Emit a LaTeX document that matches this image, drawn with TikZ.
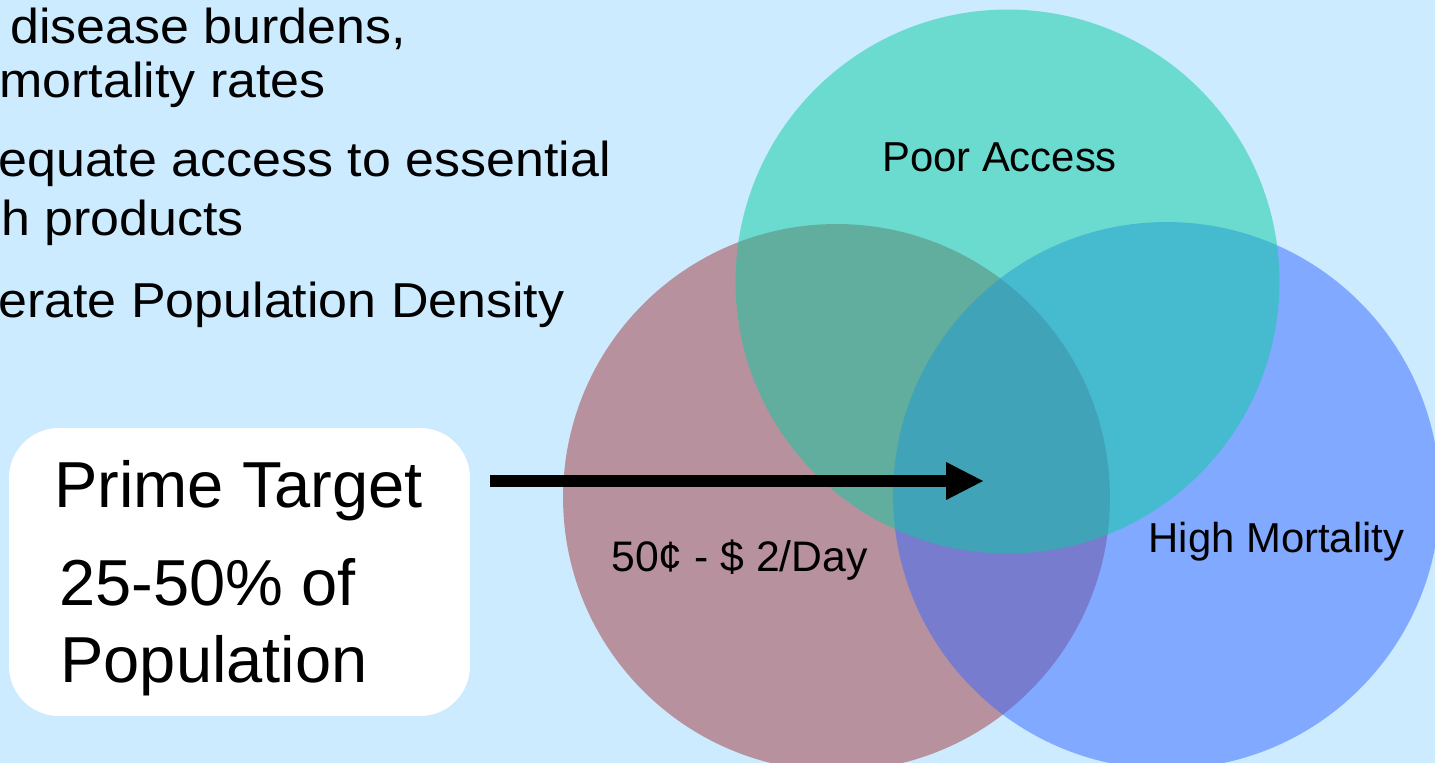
\documentclass[tikz,border=0pt]{standalone}
\usepackage{fontspec}
\setmainfont{Liberation Sans}
\usetikzlibrary{arrows.meta}
\definecolor{skyback}{HTML}{CCEBFF}
\definecolor{incomered}{HTML}{A4393D}
\definecolor{accessgreen}{HTML}{0CCBA1}
\definecolor{mortblue}{HTML}{3869FF}

\begin{document}
\begin{tikzpicture}[x=0.02cm, y=-0.02cm, inner sep=0pt,
  venn/.style={circle, minimum size=10.94cm, fill opacity=0.5},
  bullet/.style={anchor=base west, xscale=1.06, font=\fontsize{27.9}{33}\selectfont},
  tag/.style={anchor=base, font=\fontsize{23.8}{28}\selectfont},
  primebox/.style={fill=white, rounded corners=1cm, minimum width=9.22cm, minimum height=5.76cm},
  primetext/.style={anchor=base west, font=\fontsize{37}{44}\selectfont},
  pointer/.style={line width=7pt, -{Triangle[length=0.76cm, width=0.7cm]}}]
  \useasboundingbox (0,0) rectangle (1435,763);
  \clip (0,0) rectangle (1435,763);
  \fill[skyback] (0,0) rectangle (1435,763);

  \path node (l1) at (10,44)  [bullet] {disease burdens,}
        node (l2) at (-1,98)  [bullet] {mortality rates}
        node (l3) at (-2,177) [bullet] {equate access to essential}
        node (l4) at (1,236)  [bullet] {h products}
        node (l5) at (-2,317) [bullet] {erate Population Density};

  \path node (income) at (836.5,497.5)  [venn, fill=incomered] {}
        node (mort)   at (1166.5,495.5) [venn, fill=mortblue] {}
        node (access) at (1007.5,281.5) [venn, fill=accessgreen, minimum size=10.88cm] {};

  \path node (accesslbl) at (999.5,171.7) [tag] {Poor Access}
        node (mortlbl)   at (1276.5,552)  [tag] {High Mortality}
        node (incomelbl) at (739.5,571)   [tag, font=\fontsize{24.3}{28}\selectfont] {50¢ - \$ 2/Day};

  \path node (target) at (239.5,572) [primebox] {}
        node (prime)  at (54,507) [primetext] {Prime Target}
        node (share)  at (59,605) [primetext] {25-50\% of}
        node (people) at (60,682) [primetext] {Population};

  \coordinate (core) at (984,481);
  \draw[pointer, shorten <=0.4cm] (target.east |- core) -- (core);
\end{tikzpicture}
\end{document}
